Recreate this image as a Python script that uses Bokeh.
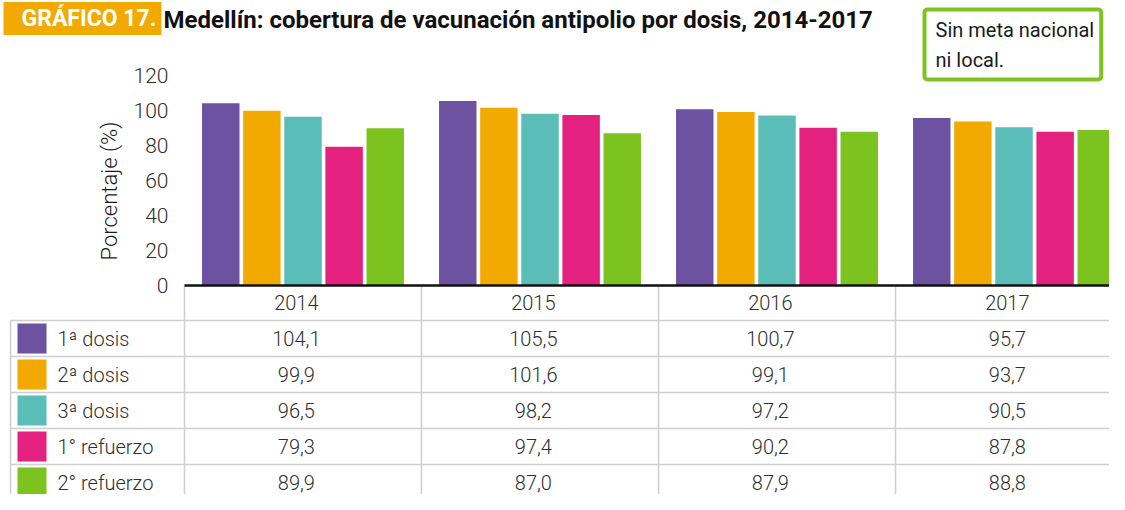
from bokeh.plotting import figure
from bokeh.models import ColumnDataSource, Range1d, Label, FixedTicker
from bokeh.core.properties import value
from bokeh.embed import file_html
from bokeh.resources import INLINE

# ---------------- data ----------------
years = ["2014", "2015", "2016", "2017"]
series = ["1ª dosis", "2ª dosis", "3ª dosis", "1° refuerzo", "2° refuerzo"]
dosis1 = [104.1, 105.5, 100.7, 95.7]
dosis2 = [99.9, 101.6, 99.1, 93.7]
dosis3 = [96.5, 98.2, 97.2, 90.5]
refuerzo1 = [79.3, 97.4, 90.2, 87.8]
refuerzo2 = [89.9, 87.0, 87.9, 88.8]
colors = ["#6C52A0", "#F2A900", "#5BBDB8", "#E5217F", "#7DC31F"]
y_ticks = [0, 20, 40, 60, 80, 100, 120]

title_tag = "GRÁFICO 17."
title_text = "Medellín: cobertura de vacunación antipolio por dosis, 2014-2017"
note_text = "Sin meta nacional\nni local."
y_label = "Porcentaje (%)"

values_by_series = [dosis1, dosis2, dosis3, refuerzo1, refuerzo2]

# ---------------- layout ----------------
W, H = 1109, 494
LEFT = 184            # canvas x of the chart's left edge
BAND = 237            # px per year column
AXIS_Y = 285          # canvas y of the zero line
HDR = 35              # header row height (px)
ROW = 36              # table row height (px)
PX = 1.75             # px per percentage point
FONT = "Roboto Light, Roboto"
TXT = "#2f2f2f"
GRID = "#CFCFCF"
TXT_SHIFT = -0.028    # texts sit slightly left of the column centre

x_start = -LEFT / BAND
x_end = (W - LEFT) / BAND
y_top = AXIS_Y / PX
y_bot = -(H - AXIS_Y) / PX
hdr_u = HDR / PX
row_u = ROW / PX

p = figure(width=W, height=H, x_range=Range1d(x_start, x_end), y_range=Range1d(y_bot, y_top),
           output_backend="svg", toolbar_location=None, min_border=0,
           outline_line_color=None, background_fill_color="white", border_fill_color="white")
p.xgrid.visible = False
p.ygrid.visible = False

# y axis
ay = p.yaxis[0]
ay.fixed_location = 0
ay.bounds = (-12, 120)
ay.ticker = FixedTicker(ticks=y_ticks)
ay.axis_line_color = None
ay.major_tick_line_color = None
ay.minor_tick_line_color = None
ay.major_label_standoff = 10
ay.major_label_text_font = FONT
ay.major_label_text_font_size = "21px"
ay.major_label_text_color = TXT
ay.axis_label = y_label
ay.axis_label_text_font = FONT
ay.axis_label_text_font_style = "normal"
ay.axis_label_text_font_size = "22px"
ay.axis_label_text_color = "#1a1a1a"
ay.axis_label_standoff = 9

# x axis (zero line with the years in the header row)
year_pos = [k + 0.5 + TXT_SHIFT for k in range(len(years))]
ax = p.xaxis[0]
ax.fixed_location = 0
ax.bounds = (0, x_end)
ax.ticker = FixedTicker(ticks=year_pos)
ax.major_label_overrides = {pos: yr for pos, yr in zip(year_pos, years)}
ax.axis_line_color = "#111111"
ax.axis_line_width = 2.5
ax.major_tick_line_color = None
ax.minor_tick_line_color = None
ax.major_label_standoff = 3
ax.major_label_text_font = FONT
ax.major_label_text_font_size = "20px"
ax.major_label_text_color = TXT

# bars
offsets = [-0.347, -0.1735, 0.0, 0.1735, 0.347]
for j, vals in enumerate(values_by_series):
    src = ColumnDataSource(dict(x=[k + 0.5 + offsets[j] for k in range(len(years))], value=vals))
    p.vbar(x="x", top="value", bottom=0, width=0.158, source=src, fill_color=colors[j], line_color=None)

# table grid
n = len(series)
x_left = (10 - LEFT) / BAND
row_tops = [-hdr_u - i * row_u for i in range(n + 1)]
p.segment(x0=[x_left] * len(row_tops), x1=[x_end] * len(row_tops), y0=row_tops, y1=row_tops,
          line_color=GRID, line_width=1.5)
vx = list(range(len(years)))
p.segment(x0=vx, x1=vx, y0=[0] * len(vx), y1=[y_bot] * len(vx), line_color=GRID, line_width=1.5)
p.segment(x0=[x_left], x1=[x_left], y0=[-hdr_u], y1=[y_bot], line_color=GRID, line_width=1.5)

# legend column
row_c = [-hdr_u - (i + 0.5) * row_u for i in range(n)]
leg = ColumnDataSource(dict(name=series, color=colors, y=row_c))
p.rect(x=(31.5 - LEFT) / BAND, y="y", width=29 / BAND, height=0.84 * row_u, source=leg,
       fill_color="color", line_color=None)
p.text(x=(57 - LEFT) / BAND, y="y", text="name", source=leg, text_align="left", text_baseline="middle",
       text_font=value(FONT), text_font_size="20px", text_color=TXT)

# values
cx, cy, ct = [], [], []
for i, vals in enumerate(values_by_series):
    for k, v in enumerate(vals):
        cx.append(k + 0.5 + TXT_SHIFT)
        cy.append(row_c[i])
        ct.append(f"{v:.1f}".replace(".", ","))
p.text(x=cx, y=cy, text=ct, text_align="center", text_baseline="middle",
       text_font=value(FONT), text_font_size="20px", text_color=TXT)

# title and note
tag = Label(x=3, y=H - 18, x_units="screen", y_units="screen", text=title_tag,
            text_font="Roboto", text_font_size="23px", text_font_style="bold", text_color="white",
            text_baseline="middle", background_fill_color="#F2A900")
try:
    tag.padding = dict(left=18, right=5, top=3, bottom=3)
except Exception:
    tag.padding = 4
p.add_layout(tag)
p.add_layout(Label(x=163, y=H - 19, x_units="screen", y_units="screen", text=title_text,
                   text_font="Roboto", text_font_size="24px", text_font_style="bold", text_color="#111111",
                   text_baseline="middle"))
note = Label(x=924, y=H - 9, x_units="screen", y_units="screen", text=note_text,
             text_font="Roboto", text_font_size="20px", text_color="#1a1a1a", text_baseline="top",
             text_line_height=1.25, background_fill_color="white", border_line_color="#7DC31F",
             border_line_width=4, border_radius=3)
try:
    note.padding = dict(left=11, right=7, top=8, bottom=8)
except Exception:
    note.padding = 8
p.add_layout(note)

open("out.html", "w").write(file_html(p, INLINE))
